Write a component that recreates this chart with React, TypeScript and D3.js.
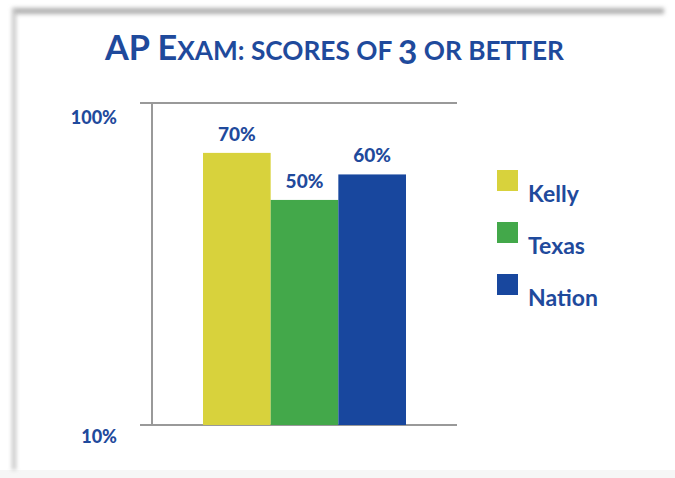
import React, { useEffect } from 'react';
import * as d3 from 'd3';

const categories = ['Kelly', 'Texas', 'Nation'];
const values = [70, 50, 60];
const colors = ['#D8D23C', '#43A84A', '#18479E'];
const yTicks = [10, 100];

const W = 675;
const H = 478;
const TEXT = '#1F4A9C';
const FONT = 'Lato, "Open Sans", sans-serif';

const App = () => {
  useEffect(() => {
    document.body.style.margin = '0';
  }, []);

  const yScale = d3.scaleLog().domain([10, 100]).range([425, 103]);
  const xScale = d3.scaleBand().domain(categories).range([203, 406]).padding(0);

  return (
    <svg width={W} height={H} style={{ display: 'block', background: '#fff' }}>
      <defs>
        <filter id="blur" x="-10%" y="-10%" width="120%" height="120%">
          <feGaussianBlur stdDeviation="2" />
        </filter>
      </defs>

      {/* frame shadow */}
      <rect x={0} y={470} width={W} height={8} fill="#f6f6f6" />
      <g filter="url(#blur)">
        <line x1={12} x2={664} y1={11} y2={11} stroke="#b0b0b0" strokeWidth={6} />
        <line x1={14} x2={14} y1={10} y2={470} stroke="#c4c4c4" strokeWidth={4} />
      </g>
      <line x1={670} x2={670} y1={6} y2={478} stroke="#cacaca" strokeWidth={5} filter="url(#blur)" />

      {/* title */}
      <text
        x={105}
        y={60}
        fill={TEXT}
        fontFamily={FONT}
        fontWeight={700}
        textLength={459}
        lengthAdjust="spacingAndGlyphs"
      >
        <tspan fontSize={34}>AP E</tspan>
        <tspan fontSize={26}>XAM: SCORES OF </tspan>
        <tspan fontSize={33} dy={4}>3</tspan>
        <tspan fontSize={26} dy={-4}> OR BETTER</tspan>
      </text>

      {/* axes */}
      <line x1={140} x2={457} y1={yScale(100)} y2={yScale(100)} stroke="#999" strokeWidth={2} />
      <line x1={140} x2={457} y1={yScale(10)} y2={yScale(10)} stroke="#999" strokeWidth={2} />
      <line x1={152} x2={152} y1={yScale(100)} y2={yScale(10)} stroke="#999" strokeWidth={2} />

      {yTicks.map((t) => (
        <text
          key={t}
          x={117}
          y={yScale(t) + (t === 10 ? 18 : 21)}
          textAnchor="end"
          fill={TEXT}
          fontFamily={FONT}
          fontWeight={900}
          fontSize={18}
        >
          {t}%
        </text>
      ))}

      {/* bars */}
      {categories.map((c, i) => (
        <g key={c}>
          <rect
            x={xScale(c)}
            y={yScale(values[i])}
            width={xScale.bandwidth()}
            height={yScale(10) - yScale(values[i])}
            fill={colors[i]}
          />
          <text
            x={(xScale(c) as number) + xScale.bandwidth() / 2}
            y={yScale(values[i]) - 12}
            textAnchor="middle"
            fill={TEXT}
            fontFamily={FONT}
            fontWeight={900}
            fontSize={19}
          >
            {values[i]}%
          </text>
        </g>
      ))}

      {/* legend */}
      {categories.map((c, i) => (
        <g key={c} transform={`translate(497, ${170 + i * 52})`}>
          <rect width={21} height={21} fill={colors[i]} />
          <text x={31} y={32} fill={TEXT} fontFamily={FONT} fontWeight={700} fontSize={23}>
            {c}
          </text>
        </g>
      ))}
    </svg>
  );
};

export default App;
